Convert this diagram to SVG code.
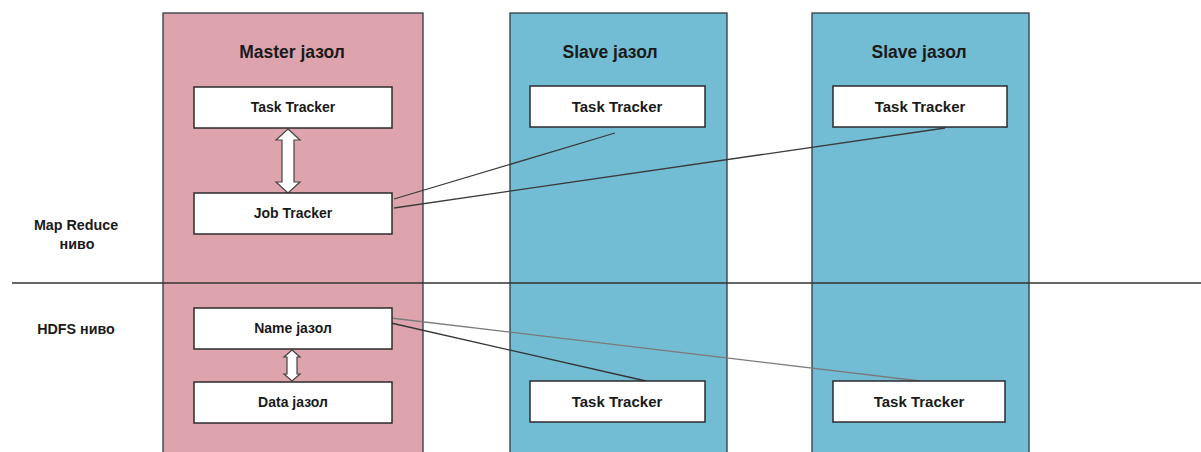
<svg xmlns="http://www.w3.org/2000/svg" width="1201" height="452" viewBox="0 0 1201 452">
<style>
text{font-family:"Liberation Sans",Arial,sans-serif;font-weight:bold;fill:#1a1a1a;text-anchor:middle}
.col{stroke:#2f3a40;stroke-width:1.3}
.master{fill:#dea4ae}
.slave{fill:#72bdd3}
.box{fill:#ffffff;stroke:#2b2b2b;stroke-width:1.5}
.t{font-size:17.5px}
.b{font-size:14px}
.bs{font-size:15px}
.lab{font-size:14.3px}
.conn{fill:none;stroke-width:1.3}
.dbl{fill:#ffffff;stroke:#444;stroke-width:1.2}
</style>
<rect width="1201" height="452" fill="#ffffff"/>
<g id="master-col">
<rect class="col master" x="163" y="13" width="260" height="445"/>
<text class="t" x="292" y="58">Master јазол</text>
</g>
<g id="slave1-col">
<rect class="col slave" x="510" y="13" width="217" height="445"/>
<text class="t" x="610" y="58">Slave јазол</text>
</g>
<g id="slave2-col">
<rect class="col slave" x="812" y="13" width="217" height="445"/>
<text class="t" x="919" y="58">Slave јазол</text>
</g>
<g id="labels">
<text class="lab" x="76" y="230">Map Reduce</text>
<text class="lab" x="77" y="249">ниво</text>
<text class="lab" x="76" y="334">HDFS ниво</text>
</g>
<line id="divider" x1="12" y1="283" x2="1201" y2="283" stroke="#333" stroke-width="1.3"/>
<g id="connectors">
<line class="conn" stroke="#3a3a3a" x1="394" y1="199" x2="615" y2="133"/>
<line class="conn" stroke="#3a3a3a" x1="394" y1="208" x2="945" y2="128"/>
<line class="conn" stroke="#7a7a7a" x1="391" y1="318" x2="920" y2="381"/>
<line class="conn" stroke="#333" x1="391" y1="323" x2="646" y2="381"/>
<path class="dbl" d="M288,129 L300,140 L294,140 L294,182 L300,182 L288,193 L276,182 L282,182 L282,140 L276,140 Z"/>
<path class="dbl" stroke="#777" d="M292,350 L300,357 L297,357 L297,374 L300,374 L292,381 L284,374 L287,374 L287,357 L284,357 Z"/>
</g>
<g id="master-task-tracker">
<rect class="box" x="194" y="87" width="198" height="41"/>
<text class="b" x="293" y="112">Task Tracker</text>
</g>
<g id="job-tracker">
<rect class="box" x="194" y="193" width="198" height="41"/>
<text class="b" x="293" y="218">Job Tracker</text>
</g>
<g id="name-node">
<rect class="box" x="194" y="308" width="198" height="41"/>
<text class="b" x="293" y="333">Name јазол</text>
</g>
<g id="data-node">
<rect class="box" x="194" y="382" width="198" height="41"/>
<text class="b" x="293" y="407">Data јазол</text>
</g>
<g id="slave1-task-tracker-top">
<rect class="box" x="530" y="86" width="175" height="41"/>
<text class="bs" x="617" y="112">Task Tracker</text>
</g>
<g id="slave2-task-tracker-top">
<rect class="box" x="833" y="86" width="174" height="41"/>
<text class="bs" x="920" y="112">Task Tracker</text>
</g>
<g id="slave1-task-tracker-bottom">
<rect class="box" x="530" y="381" width="175" height="41"/>
<text class="bs" x="617" y="407">Task Tracker</text>
</g>
<g id="slave2-task-tracker-bottom">
<rect class="box" x="833" y="381" width="172" height="41"/>
<text class="bs" x="919" y="407">Task Tracker</text>
</g>
</svg>
